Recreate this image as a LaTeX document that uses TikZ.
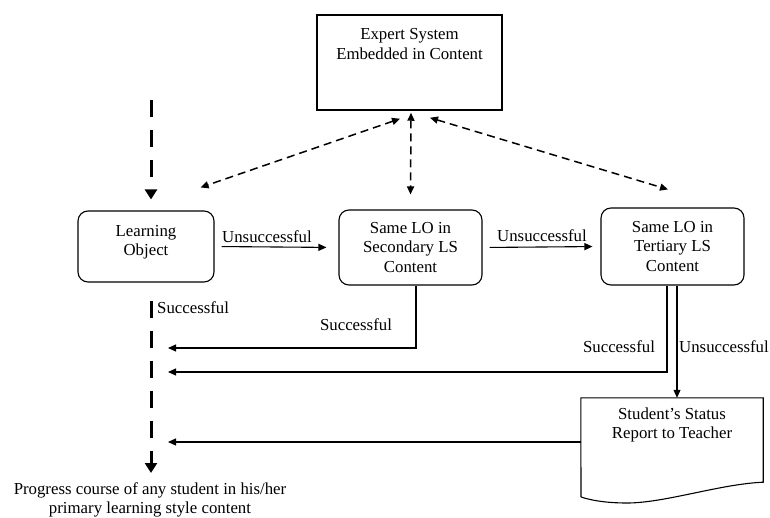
\documentclass[tikz,border=0pt]{standalone}
\usepackage{fontspec}
\setmainfont{Liberation Serif}
\usetikzlibrary{arrows.meta}
\begin{document}
\begin{tikzpicture}[x=1pt,y=-1pt,
  every node/.style={font=\fontsize{16.8}{19.2}\selectfont, inner sep=0pt},
  rbox/.style={draw, line width=1.1pt, rounded corners=10pt, align=center},
  flow/.style={line width=1.1pt, -{Triangle[length=8pt,width=7pt]}},
  link/.style={line width=1.5pt, dash pattern=on 8pt off 5pt,
    {Triangle[length=8pt,width=7pt]}-{Triangle[length=8pt,width=7pt]}},
  course/.style={line width=3pt, dash pattern=on 17pt off 13pt,
    -{Triangle[length=10pt,width=12pt]}},
  lbl/.style={anchor=center}
]
\useasboundingbox (0,0) rectangle (770,518);

% expert system box
\node[draw, line width=1.5pt, minimum width=185, minimum height=95] (es) at (409.5,62.5) {};
\node[align=center] (estext) at (409.5,44) {Expert System\\Embedded in Content};

% content boxes
\node[rbox, minimum width=136, minimum height=71] (lo) at (146,246.5) {};
\node[align=center] (lotext) at (146,242) {Learning\\Object};
\node[rbox, minimum width=143, minimum height=75] (sec) at (410.5,247.5) {Same LO in\\Secondary LS\\Content};
\node[rbox, minimum width=143, minimum height=77] (ter) at (672.5,246.5) {Same LO in\\Tertiary LS\\Content};

% status report (document shape)
\node[minimum width=182, minimum height=88] (rep) at (672,442) {};
\node[align=center] (reptext) at (672,425) {Student’s Status\\Report to Teacher};
\coordinate (wl) at (581,497);
\coordinate (wm) at (627,503);
\draw[line width=1.1pt] (wl) -- (rep.north west) -- (rep.north east) -- ([yshift=4pt]rep.south east)
  .. controls (720,484) and (665,503) .. (wm) .. controls (605,503) and (590,500) .. (wl);

% progress course of the student
\coordinate (start) at (151,100);
\coordinate (pend) at (151,473);
\node[align=center] (prog) at (150,500) {Progress course of any student in his/her\\primary learning style content};
\draw[course] (start) -- ([xshift=5pt,yshift=11pt]lo.north);
\draw[course] ([xshift=5pt,yshift=-18pt]lo.south) -- (pend);
\node[anchor=west] (s0) at (157,308) {Successful};

% links with the expert system
\draw[link] ([xshift=-9.5pt,yshift=-8pt]es.south) -- ([xshift=-14pt,yshift=23pt]lo.north east);
\draw[link] ([xshift=1.5pt,yshift=-2pt]es.south) -- ([yshift=15pt]sec.north);
\draw[link] ([xshift=20.5pt,yshift=-7pt]es.south) -- ([xshift=-4.5pt,yshift=18pt]ter.north);

% unsuccessful paths
\draw[flow, shorten <=7pt, shorten >=12pt] (lo.east) -- (sec.west);
\node[lbl] (u1) at (267,237) {Unsuccessful};
\draw[flow, shorten <=7pt, shorten >=8pt] (sec.east) -- (ter.west);
\node[lbl] (u2) at (542,236) {Unsuccessful};
\draw[flow] ([xshift=4.5pt]ter.south) -- ([xshift=4.5pt]ter.south |- rep.north);
\node[anchor=west] (u3) at (679,347) {Unsuccessful};

% successful returns to the course
\coordinate (j1) at (168,348);
\coordinate (j2) at (168,372);
\coordinate (j3) at (168,442);
\draw[flow] ([xshift=5.5pt]sec.south) |- (j1);
\node[lbl] (s1) at (356,325) {Successful};
\draw[flow] ([xshift=-5.5pt]ter.south) |- (j2);
\node[lbl] (s2) at (619,347) {Successful};
\draw[flow] (rep.west) -- (j3);
\end{tikzpicture}
\end{document}
